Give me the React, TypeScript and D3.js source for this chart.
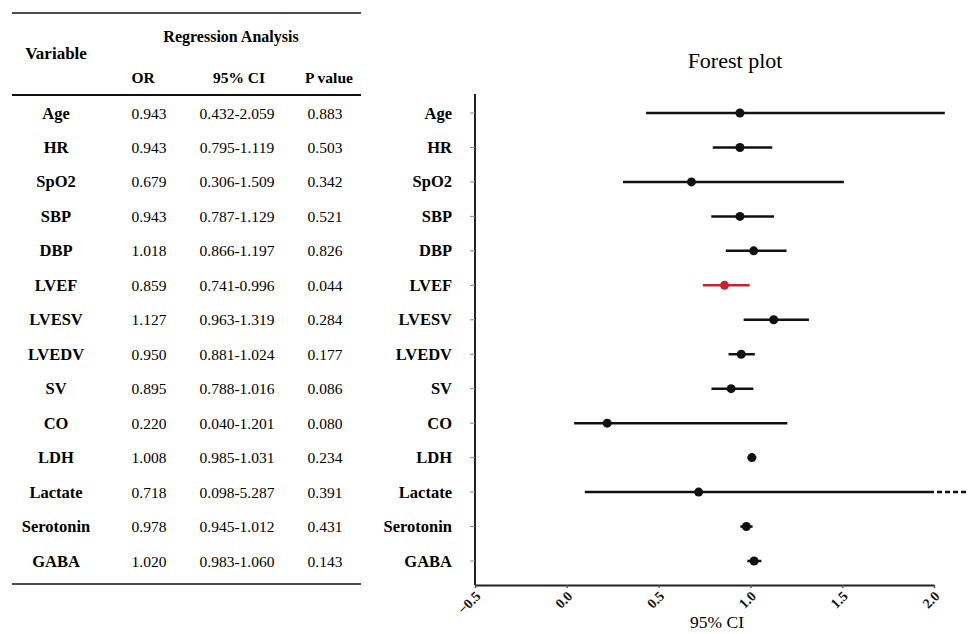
import React, { useRef, useEffect } from 'react';
import * as d3 from 'd3';

// Table / forest data
const variables = ['Age', 'HR', 'SpO2', 'SBP', 'DBP', 'LVEF', 'LVESV', 'LVEDV', 'SV', 'CO', 'LDH', 'Lactate', 'Serotonin', 'GABA'];
const orValues = [0.943, 0.943, 0.679, 0.943, 1.018, 0.859, 1.127, 0.950, 0.895, 0.220, 1.008, 0.718, 0.978, 1.020];
const ciLower = [0.432, 0.795, 0.306, 0.787, 0.866, 0.741, 0.963, 0.881, 0.788, 0.040, 0.985, 0.098, 0.945, 0.983];
const ciUpper = [2.059, 1.119, 1.509, 1.129, 1.197, 0.996, 1.319, 1.024, 1.016, 1.201, 1.031, 5.287, 1.012, 1.060];
const pValues = ['0.883', '0.503', '0.342', '0.521', '0.826', '0.044', '0.284', '0.177', '0.086', '0.080', '0.234', '0.391', '0.431', '0.143'];
const xTicks = [-0.5, 0.0, 0.5, 1.0, 1.5, 2.0];
const highlight = 'LVEF';

const FONT = '"Liberation Serif", "Times New Roman", serif';

const App = () => {
    const svgRef = useRef(null);
    const svg_width = 968;
    const svg_height = 634;

    useEffect(() => {
        const svg = d3.select(svgRef.current);
        svg.selectAll('*').remove();

        const rows = d3.scalePoint()
            .domain(variables)
            .range([113, 561]);

        // ---- Table ----
        const table = svg.append('g').attr('class', 'table');
        const rule = (y, w) => table.append('line')
            .attr('x1', 12).attr('x2', 361)
            .attr('y1', y).attr('y2', y)
            .attr('stroke', '#111').attr('stroke-width', w);
        rule(13, 1.6);
        rule(95, 2);
        rule(584, 1.6);

        const header = (txt, x, y, size) => table.append('text')
            .attr('x', x).attr('y', y)
            .attr('text-anchor', 'middle')
            .attr('dominant-baseline', 'central')
            .style('font-family', FONT)
            .style('font-weight', 'bold')
            .style('font-size', size + 'px')
            .text(txt);
        header('Variable', 56, 53, 17);
        header('Regression Analysis', 231, 36, 16);
        header('OR', 143, 77, 15.5);
        header('95% CI', 239, 77, 15.5);
        header('P value', 329, 77, 15.5);

        const rowsG = table.selectAll('.row')
            .data(variables)
            .enter()
            .append('g')
            .attr('class', 'row')
            .attr('transform', d => 'translate(0,' + rows(d) + ')');

        const cell = (x, fn, bold, size) => rowsG.append('text')
            .attr('x', x)
            .attr('text-anchor', 'middle')
            .attr('dominant-baseline', 'central')
            .style('font-family', FONT)
            .style('font-weight', bold ? 'bold' : 'normal')
            .style('font-size', size + 'px')
            .text(fn);
        cell(56, d => d, true, 16.5);
        cell(149, (d, i) => orValues[i].toFixed(3), false, 15.5);
        cell(237, (d, i) => ciLower[i].toFixed(3) + '-' + ciUpper[i].toFixed(3), false, 15.5);
        cell(325, (d, i) => pValues[i], false, 15.5);

        // ---- Forest plot ----
        const x = d3.scaleLinear()
            .domain([-0.5, 2.0])
            .range([475, 934]);
        const yTop = 94;
        const yBottom = 585;

        svg.append('text')
            .attr('x', 735).attr('y', 60)
            .attr('text-anchor', 'middle')
            .attr('dominant-baseline', 'central')
            .style('font-family', FONT)
            .style('font-size', '22px')
            .text('Forest plot');

        // y axis
        const yAxis = svg.append('g').attr('class', 'y-axis');
        yAxis.append('line')
            .attr('x1', x(-0.5)).attr('x2', x(-0.5))
            .attr('y1', yTop).attr('y2', yBottom)
            .attr('stroke', '#222').attr('stroke-width', 2);
        yAxis.selectAll('.tick')
            .data(variables)
            .enter()
            .append('line')
            .attr('x1', x(-0.5) - 5).attr('x2', x(-0.5))
            .attr('y1', d => rows(d)).attr('y2', d => rows(d))
            .attr('stroke', '#888').attr('stroke-width', 1);
        yAxis.selectAll('.lbl')
            .data(variables)
            .enter()
            .append('text')
            .attr('x', 452)
            .attr('y', d => rows(d))
            .attr('text-anchor', 'end')
            .attr('dominant-baseline', 'central')
            .style('font-family', FONT)
            .style('font-weight', 'bold')
            .style('font-size', '16.5px')
            .text(d => d);

        // x axis
        const xAxisG = svg.append('g')
            .attr('class', 'x-axis')
            .attr('transform', 'translate(0,' + yBottom + ')');
        xAxisG.call(d3.axisBottom(x).tickValues(xTicks).tickSize(3).tickSizeOuter(0).tickFormat(d3.format('.1f')));
        xAxisG.select('.domain').attr('stroke', '#222').attr('stroke-width', 2);
        xAxisG.selectAll('.tick line').attr('stroke', '#555').attr('stroke-width', 1.5);
        xAxisG.selectAll('.tick text')
            .attr('x', 0).attr('y', 0).attr('dy', 0)
            .attr('text-anchor', 'end')
            .attr('transform', 'translate(6,12) rotate(-45)')
            .style('font-family', FONT)
            .style('font-weight', 'bold')
            .style('font-size', '14px')
            .attr('fill', '#111');

        svg.append('text')
            .attr('x', 717).attr('y', 622)
            .attr('text-anchor', 'middle')
            .attr('dominant-baseline', 'central')
            .style('font-family', FONT)
            .style('font-size', '17.5px')
            .text('95% CI');

        // CI lines and points
        const marks = svg.append('g').attr('class', 'focus');
        const maxX = x.domain()[1];
        const items = variables.map((v, i) => ({ v, or: orValues[i], lo: ciLower[i], hi: ciUpper[i] }));
        const color = d => d.v === highlight ? '#c0272d' : '#111';

        marks.selectAll('.ci')
            .data(items)
            .enter()
            .append('line')
            .attr('x1', d => x(d.lo))
            .attr('x2', d => d.hi > 2.5 ? x(maxX) : x(d.hi))
            .attr('y1', d => rows(d.v)).attr('y2', d => rows(d.v))
            .attr('stroke', color)
            .attr('stroke-width', 2.5);

        // truncated upper bound continues dashed off the plot
        marks.selectAll('.ci-cont')
            .data(items.filter(d => d.hi > 2.5))
            .enter()
            .append('line')
            .attr('x1', x(maxX) + 3)
            .attr('x2', svg_width)
            .attr('y1', d => rows(d.v)).attr('y2', d => rows(d.v))
            .attr('stroke', '#111')
            .attr('stroke-width', 2.5)
            .attr('stroke-dasharray', '5,3');

        marks.selectAll('.pt')
            .data(items)
            .enter()
            .append('circle')
            .attr('cx', d => x(d.or))
            .attr('cy', d => rows(d.v))
            .attr('r', 4.5)
            .attr('fill', color);
    }, []);

    return (
        <svg ref={svgRef} width={svg_width} height={svg_height}
            style={{ position: 'absolute', left: 0, top: 0, background: '#fff' }} />
    );
};

export default App;
